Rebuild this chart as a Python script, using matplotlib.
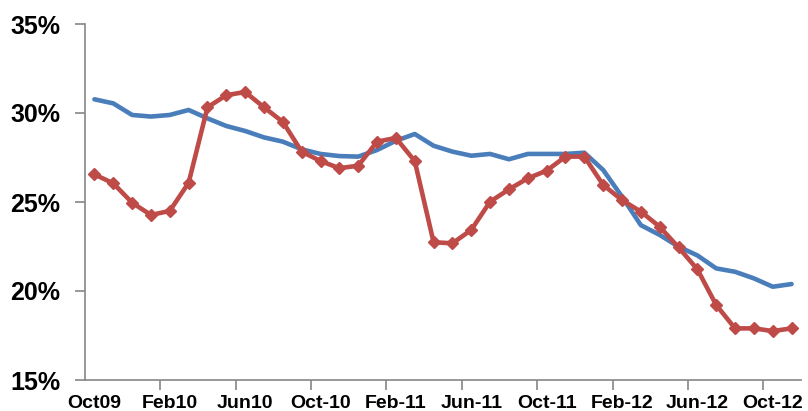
import matplotlib
matplotlib.use("Agg")
import matplotlib.pyplot as plt
import numpy as np
from matplotlib.ticker import FixedLocator, FuncFormatter

tick_labels = ["Oct09", "Feb10", "Jun10", "Oct-10", "Feb-11", "Jun-11",
               "Oct-11", "Feb-12", "Jun-12", "Oct-12"]

blue_values = [30.77, 30.54, 29.89, 29.80, 29.89, 30.17, 29.70, 29.27, 28.99, 28.63,
               28.39, 27.96, 27.70, 27.58, 27.55, 27.92, 28.44, 28.82, 28.16, 27.83,
               27.60, 27.70, 27.40, 27.70, 27.70, 27.70, 27.77, 26.80, 25.30, 23.70,
               23.15, 22.49, 22.00, 21.27, 21.08, 20.71, 20.24, 20.39]

red_values = [26.55, 26.05, 24.96, 24.27, 24.50, 26.08, 30.32, 31.00, 31.18, 30.32,
              29.50, 27.83, 27.30, 26.90, 27.04, 28.39, 28.60, 27.30, 22.74, 22.68,
              23.43, 25.02, 25.71, 26.33, 26.76, 27.55, 27.55, 25.96, 25.11, 24.46,
              23.61, 22.45, 21.22, 19.21, 17.90, 17.90, 17.75, 17.90]

y_ticks = [15, 20, 25, 30, 35]

plt.rcParams['font.family'] = ['Liberation Sans', 'DejaVu Sans']

fig = plt.figure(figsize=(8.08, 4.11), dpi=100)
ax = fig.add_axes([85/808, 1 - 380/411, (801-85)/808, (380-24)/411])

x = np.arange(len(blue_values))
ax.plot(x, blue_values, color="#4A7EBB", lw=3.3, solid_capstyle="round",
        solid_joinstyle="round", zorder=2)
ax.plot(x, red_values, color="#BE4B48", lw=3.3, marker="D", markersize=6,
        markeredgecolor="#BE4B48", solid_capstyle="round", solid_joinstyle="round",
        zorder=3)

ax.set_xlim(-0.5, len(blue_values) - 0.5)
ax.set_ylim(15, 35)

ax.set_yticks(y_ticks)
ax.yaxis.set_major_formatter(FuncFormatter(lambda v, p: f"{int(v)}%"))
for lbl in ax.get_yticklabels():
    lbl.set_fontsize(18)
    lbl.set_fontweight("bold")

n_lab = len(tick_labels)
ax.xaxis.set_major_locator(FixedLocator([i * 4 - 0.5 for i in range(1, n_lab)]))
ax.xaxis.set_major_formatter(FuncFormatter(lambda v, p: ""))
ax.xaxis.set_minor_locator(FixedLocator([i * 4 for i in range(n_lab)]))
ax.set_xticklabels(tick_labels, minor=True, fontsize=14, fontweight="bold")
ax.tick_params(axis="x", which="minor", length=0, pad=11)
ax.tick_params(axis="x", which="major", length=7, width=1.2, color="#868686", direction="out")
ax.tick_params(axis="y", length=7, width=1.2, color="#868686", direction="out", pad=11)

for s in ["top", "right"]:
    ax.spines[s].set_visible(False)
for s in ["left", "bottom"]:
    ax.spines[s].set_color("#868686")
    ax.spines[s].set_linewidth(1.2)

fig.savefig("out.png", dpi=100)
